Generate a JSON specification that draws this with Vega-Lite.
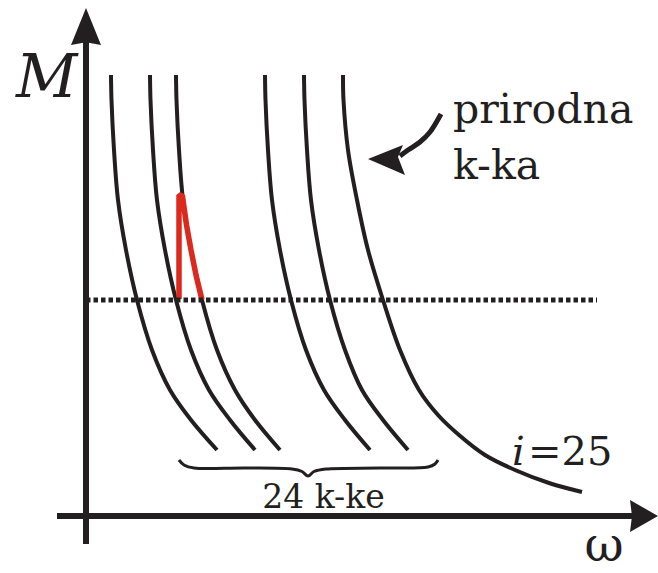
{
  "$schema": "https://vega.github.io/schema/vega-lite/v6.json",
  "width": 658,
  "height": 573,
  "autosize": {"type": "fit", "contains": "padding"},
  "padding": 0,
  "background": "white",
  "config": {"view": {"stroke": null}},
  "datasets": {
    "curves": [
      {"c": 1, "x": 111, "y": 75}, {"c": 1, "x": 111.5, "y": 100}, {"c": 1, "x": 114, "y": 150}, {"c": 1, "x": 118, "y": 200}, {"c": 1, "x": 126, "y": 250}, {"c": 1, "x": 137, "y": 300}, {"c": 1, "x": 152, "y": 350}, {"c": 1, "x": 170, "y": 390}, {"c": 1, "x": 191, "y": 420}, {"c": 1, "x": 217, "y": 450},
      {"c": 2, "x": 150, "y": 75}, {"c": 2, "x": 150.5, "y": 100}, {"c": 2, "x": 153, "y": 150}, {"c": 2, "x": 157, "y": 200}, {"c": 2, "x": 165, "y": 250}, {"c": 2, "x": 176, "y": 300}, {"c": 2, "x": 191, "y": 350}, {"c": 2, "x": 209, "y": 390}, {"c": 2, "x": 230, "y": 420}, {"c": 2, "x": 255, "y": 450},
      {"c": 3, "x": 176, "y": 75}, {"c": 3, "x": 176.5, "y": 100}, {"c": 3, "x": 179, "y": 150}, {"c": 3, "x": 183, "y": 200}, {"c": 3, "x": 191, "y": 250}, {"c": 3, "x": 202, "y": 300}, {"c": 3, "x": 217, "y": 350}, {"c": 3, "x": 235, "y": 390}, {"c": 3, "x": 255, "y": 420}, {"c": 3, "x": 280, "y": 450},
      {"c": 4, "x": 265, "y": 75}, {"c": 4, "x": 265.5, "y": 100}, {"c": 4, "x": 268, "y": 150}, {"c": 4, "x": 272, "y": 200}, {"c": 4, "x": 280, "y": 250}, {"c": 4, "x": 291, "y": 300}, {"c": 4, "x": 306, "y": 350}, {"c": 4, "x": 324, "y": 390}, {"c": 4, "x": 345, "y": 420}, {"c": 4, "x": 370, "y": 450},
      {"c": 5, "x": 304, "y": 75}, {"c": 5, "x": 304.5, "y": 100}, {"c": 5, "x": 307, "y": 150}, {"c": 5, "x": 311, "y": 200}, {"c": 5, "x": 319, "y": 250}, {"c": 5, "x": 330, "y": 300}, {"c": 5, "x": 345, "y": 350}, {"c": 5, "x": 362, "y": 390}, {"c": 5, "x": 383, "y": 420}, {"c": 5, "x": 408, "y": 450},
      {"c": 6, "x": 343, "y": 75}, {"c": 6, "x": 343.5, "y": 100}, {"c": 6, "x": 348, "y": 150}, {"c": 6, "x": 357, "y": 200}, {"c": 6, "x": 368, "y": 250}, {"c": 6, "x": 383, "y": 300}, {"c": 6, "x": 400, "y": 350}, {"c": 6, "x": 419, "y": 390}, {"c": 6, "x": 438, "y": 415}, {"c": 6, "x": 459, "y": 435}, {"c": 6, "x": 485, "y": 455}, {"c": 6, "x": 515, "y": 470}, {"c": 6, "x": 549, "y": 483}, {"c": 6, "x": 582, "y": 492}
    ],
    "red": [
      {"o": 1, "x": 179, "y": 299}, {"o": 2, "x": 179, "y": 195}, {"o": 3, "x": 182.5, "y": 196}, {"o": 4, "x": 183, "y": 200}, {"o": 5, "x": 186.5, "y": 225}, {"o": 6, "x": 191, "y": 250}, {"o": 7, "x": 196, "y": 275}, {"o": 8, "x": 202, "y": 300}
    ],
    "shaft": [
      {"o": 1, "x": 441, "y": 114}, {"o": 2, "x": 430, "y": 132}, {"o": 3, "x": 420, "y": 142}, {"o": 4, "x": 408, "y": 150}, {"o": 5, "x": 400, "y": 156}
    ],
    "brace": [
      {"o": 1, "x": 179, "y": 460}, {"o": 2, "x": 184, "y": 465}, {"o": 3, "x": 194, "y": 468}, {"o": 4, "x": 245, "y": 468}, {"o": 5, "x": 292, "y": 469}, {"o": 6, "x": 302, "y": 471.5}, {"o": 7, "x": 308, "y": 476}, {"o": 8, "x": 314, "y": 471.5}, {"o": 9, "x": 326, "y": 469}, {"o": 10, "x": 380, "y": 468}, {"o": 11, "x": 428, "y": 467}, {"o": 12, "x": 435, "y": 464}, {"o": 13, "x": 438, "y": 460}
    ],
    "heads": [
      {"h": "up", "x": 86, "y": 26.5},
      {"h": "right", "x": 644, "y": 516},
      {"h": "left", "x": 386.5, "y": 160}
    ],
    "labels": [
      {"k": "M", "t": "M", "x": 16, "y": 97},
      {"k": "p1", "t": "prirodna", "x": 453, "y": 123},
      {"k": "p2", "t": "k-ka", "x": 453, "y": 179},
      {"k": "i", "t": "i", "x": 512, "y": 465},
      {"k": "eq", "t": "=25", "x": 528, "y": 465},
      {"k": "b", "t": "24 k-ke", "x": 323.5, "y": 508},
      {"k": "w", "t": "ω", "x": 604, "y": 561}
    ]
  },
  "encoding": {
    "x": {"field": "x", "type": "quantitative", "scale": {"domain": [0, 658], "nice": false, "zero": false}, "axis": null},
    "y": {"field": "y", "type": "quantitative", "scale": {"domain": [0, 573], "nice": false, "zero": false, "reverse": true}, "axis": null}
  },
  "layer": [
    {
      "data": {"name": "curves"},
      "mark": {"type": "line", "interpolate": "catmull-rom", "strokeWidth": 4, "color": "#231f20", "strokeCap": "butt"},
      "encoding": {"detail": {"field": "c"}, "order": {"field": "y", "type": "quantitative"}}
    },
    {
      "data": {"name": "red"},
      "mark": {"type": "line", "strokeWidth": 5.5, "color": "#dc291e", "strokeJoin": "bevel", "strokeCap": "butt"},
      "encoding": {"order": {"field": "o", "type": "quantitative"}}
    },
    {
      "data": {"values": [{"x": 86, "x2": 597, "y": 300}]},
      "mark": {"type": "rule", "strokeWidth": 5, "strokeDash": [4.5, 3], "color": "#231f20"},
      "encoding": {"x2": {"field": "x2"}}
    },
    {
      "data": {"values": [{"x": 86, "y": 40, "y2": 544}]},
      "mark": {"type": "rule", "strokeWidth": 6, "color": "#231f20"},
      "encoding": {"y2": {"field": "y2"}}
    },
    {
      "data": {"values": [{"x": 57, "x2": 636, "y": 516}]},
      "mark": {"type": "rule", "strokeWidth": 6, "color": "#231f20"},
      "encoding": {"x2": {"field": "x2"}}
    },
    {
      "data": {"name": "heads"},
      "transform": [{"filter": "datum.h === 'up'"}],
      "mark": {"type": "point", "filled": true, "opacity": 1, "color": "#231f20", "size": 1369, "shape": "M0,-1 L0.81,1 L0,0.85 L-0.81,1 Z"}
    },
    {
      "data": {"name": "heads"},
      "transform": [{"filter": "datum.h === 'right'"}],
      "mark": {"type": "point", "filled": true, "opacity": 1, "color": "#231f20", "size": 1024, "shape": "M0.875,0 L-0.875,1 L-0.75,0 L-0.875,-1 Z"}
    },
    {
      "data": {"name": "heads"},
      "transform": [{"filter": "datum.h === 'left'"}],
      "mark": {"type": "point", "filled": true, "opacity": 1, "color": "#231f20", "size": 1369, "shape": "M-1,-0.05 L0.89,-0.81 L0.62,-0.16 L1,0.81 Z"}
    },
    {
      "data": {"name": "shaft"},
      "mark": {"type": "line", "interpolate": "catmull-rom", "strokeWidth": 5, "color": "#231f20", "strokeCap": "butt"},
      "encoding": {"order": {"field": "o", "type": "quantitative"}}
    },
    {
      "data": {"name": "brace"},
      "mark": {"type": "line", "interpolate": "catmull-rom", "strokeWidth": 3, "color": "#231f20"},
      "encoding": {"order": {"field": "o", "type": "quantitative"}}
    },
    {
      "data": {"name": "labels"},
      "transform": [{"filter": "datum.k === 'M'"}],
      "mark": {"type": "text", "font": "DejaVu Serif", "fontStyle": "italic", "fontSize": 60, "align": "left", "baseline": "alphabetic", "color": "#231f20"},
      "encoding": {"text": {"field": "t"}}
    },
    {
      "data": {"name": "labels"},
      "transform": [{"filter": "datum.k === 'p1' || datum.k === 'p2'"}],
      "mark": {"type": "text", "font": "DejaVu Serif", "fontSize": 41, "align": "left", "baseline": "alphabetic", "color": "#231f20"},
      "encoding": {"text": {"field": "t"}}
    },
    {
      "data": {"name": "labels"},
      "transform": [{"filter": "datum.k === 'eq'"}],
      "mark": {"type": "text", "font": "DejaVu Serif", "fontSize": 40, "align": "left", "baseline": "alphabetic", "color": "#231f20"},
      "encoding": {"text": {"field": "t"}}
    },
    {
      "data": {"name": "labels"},
      "transform": [{"filter": "datum.k === 'i'"}],
      "mark": {"type": "text", "font": "DejaVu Serif", "fontStyle": "italic", "fontSize": 40, "align": "left", "baseline": "alphabetic", "color": "#231f20"},
      "encoding": {"text": {"field": "t"}}
    },
    {
      "data": {"name": "labels"},
      "transform": [{"filter": "datum.k === 'b'"}],
      "mark": {"type": "text", "font": "DejaVu Serif", "fontSize": 33, "align": "center", "baseline": "alphabetic", "color": "#231f20"},
      "encoding": {"text": {"field": "t"}}
    },
    {
      "data": {"name": "labels"},
      "transform": [{"filter": "datum.k === 'w'"}],
      "mark": {"type": "text", "font": "DejaVu Serif", "fontSize": 48, "align": "center", "baseline": "alphabetic", "color": "#231f20"},
      "encoding": {"text": {"field": "t"}}
    }
  ]
}
